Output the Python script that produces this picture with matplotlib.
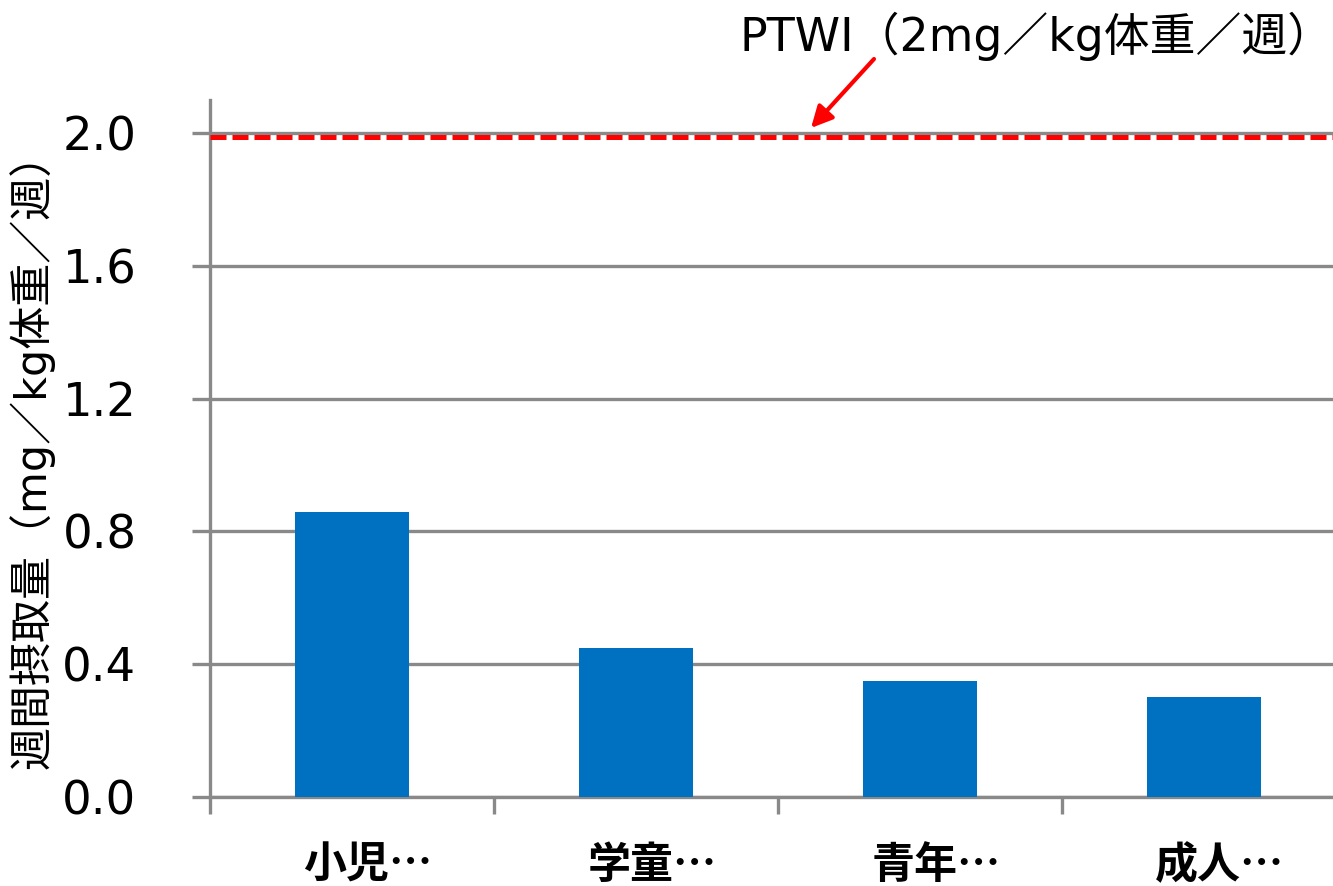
import matplotlib
matplotlib.use("Agg")
import matplotlib.pyplot as plt
import matplotlib.transforms as mtransforms

plt.rcParams['font.family'] = ['DejaVu Sans', 'Noto Sans CJK JP']

categories = ["小児…", "学童…", "青年…", "成人…"]
weekly_intake = [0.86, 0.45, 0.35, 0.30]
ptwi = 2.0
y_ticks = [0.0, 0.4, 0.8, 1.2, 1.6, 2.0]
y_tick_labels = ["0.0", "0.4", "0.8", "1.2", "1.6", "2.0"]
ptwi_label = "PTWI（2mg／kg体重／週）"
y_label = "週間摂取量（mg／kg体重／週）"

W, H = 1333, 886
fig = plt.figure(figsize=(W / 100, H / 100), dpi=100)
# axes spans x 210..1346 px, y 797..100 px
ax = fig.add_axes([210 / W, 1 - 797 / H, (1346 - 210) / W, (797 - 100) / H])

grey = "#898989"
x = list(range(len(categories)))
ax.bar(x, weekly_intake, width=0.4, color="#0070C0", zorder=3)

ax.set_xlim(-0.5, len(categories) - 0.5)
ax.set_ylim(0, 2.1)
ax.set_yticks(y_ticks)
ax.set_yticklabels(y_tick_labels, fontsize=33.5)
ax.yaxis.grid(True, color=grey, linewidth=2.4, zorder=0)
ax.set_axisbelow(True)

# category boundary ticks on the x axis; category names written below
ax.set_xticks([i - 0.5 for i in range(len(categories) + 1)])
ax.set_xticklabels([""] * (len(categories) + 1))
ax.tick_params(axis="x", length=12, width=2.4, color=grey, direction="out")
ax.tick_params(axis="y", length=13, width=2.4, color=grey, direction="out", pad=40)

label_tf = ax.get_xaxis_transform() + mtransforms.ScaledTranslation(
    16 / 100, -68 / 100, fig.dpi_scale_trans)
for xi, name in zip(x, categories):
    ax.text(xi, 0, name, transform=label_tf, ha="center", va="center",
            fontsize=31, fontweight="bold", family=['Noto Sans CJK JP'])

for side in ("top", "right"):
    ax.spines[side].set_visible(False)
for side in ("left", "bottom"):
    ax.spines[side].set_color(grey)
    ax.spines[side].set_linewidth(2.4)

ax.set_ylabel(y_label, fontsize=31)
ax.yaxis.set_label_coords(-0.137, 0.497)

# PTWI reference line, drawn just under the 2.0 gridline
shift = mtransforms.ScaledTranslation(0, -2.5 / 72, fig.dpi_scale_trans)
ax.plot([0, 1], [ptwi, ptwi], color="#FF0000", linewidth=3.6,
        linestyle=(0, (3.2, 1.2)), zorder=4, clip_on=False,
        transform=ax.get_yaxis_transform() + shift)

ax.annotate("", xy=(811, H - 128), xycoords="figure pixels",
            xytext=(874, H - 59), textcoords="figure pixels",
            arrowprops=dict(arrowstyle="-|>", color="#FF0000", lw=3,
                            mutation_scale=32, shrinkA=0, shrinkB=0))
fig.text(1334 / W, 1 - 36 / H, ptwi_label, fontsize=33, ha="right", va="center")

fig.savefig("out.png", dpi=100, facecolor="white")
